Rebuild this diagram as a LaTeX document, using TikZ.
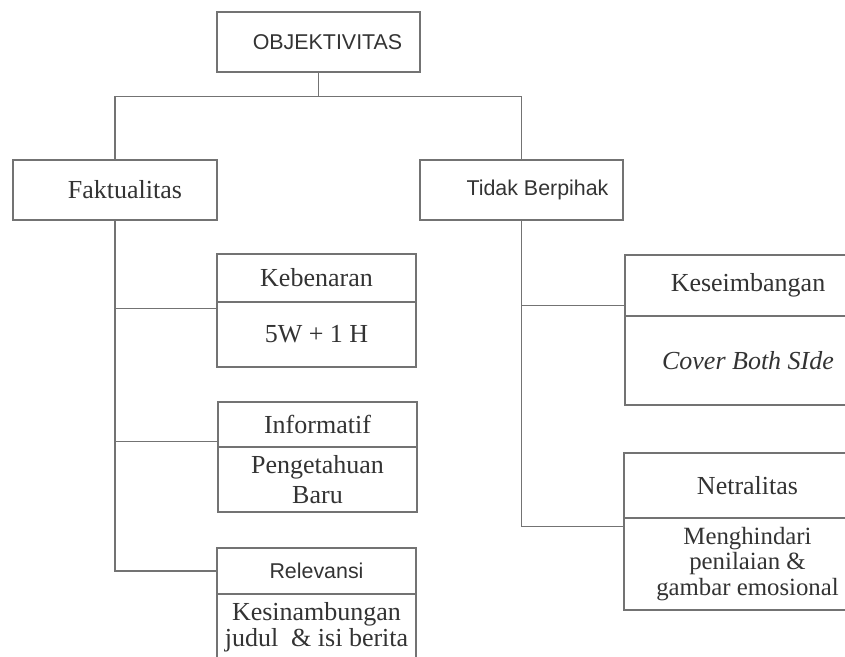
\documentclass[tikz,border=0pt]{standalone}
\usepackage{fontspec}
\usetikzlibrary{calc}
\setmainfont{Liberation Serif}
\newfontfamily\sansf{Liberation Sans}
\begin{document}
\begin{tikzpicture}[x=0.5pt,y=-0.5pt,
  box/.style={draw=black!55, line width=0.7pt, rectangle, inner sep=0pt, text=black!80, align=center},
  serifbox/.style={box, font=\fontsize{13}{15}\selectfont},
  sansbox/.style={box, font=\sansf\fontsize{10.7}{12}\selectfont},
  link/.style={draw=black!55, line width=0.7pt}]
\useasboundingbox (0,0) rectangle (845,657);
% top
\node[sansbox, minimum width=101.5pt, minimum height=30pt] (obj) at (318.5,42) {\hspace*{9pt}OBJEKTIVITAS};
\node[serifbox, minimum width=102pt, minimum height=30pt] (fakt) at (115,190) {\hspace*{10pt}Faktualitas};
\node[sansbox, minimum width=101.5pt, minimum height=30pt] (tidak) at (521.5,190) {\hspace*{16pt}Tidak Berpihak};
% left children
\node[serifbox, minimum width=99.5pt, minimum height=24pt] (kebh) at (316.5,278) {Kebenaran};
\node[serifbox, minimum width=99.5pt, minimum height=32.5pt] (kebb) at (316.5,334.5) {5W + 1 H};
\node[serifbox, minimum width=99.5pt, minimum height=22.5pt] (infh) at (317.5,424.5) {Informatif};
\node[serifbox, minimum width=99.5pt, minimum height=32.5pt, font=\fontsize{13}{15}\selectfont] (infb) at (317.5,479.5) {Pengetahuan\\Baru};
\node[sansbox, minimum width=99.5pt, minimum height=23pt] (relh) at (316.5,571) {Relevansi};
\node[serifbox, minimum width=99.5pt, minimum height=33pt, font=\fontsize{13}{11.5}\selectfont] (relb) at (316.5,627) {Kesinambungan\\judul~ \& isi berita};
% right children
\node[serifbox, minimum width=123pt, minimum height=30.5pt] (kesh) at (748,285.5) {Keseimbangan};
\node[serifbox, minimum width=123pt, minimum height=44.5pt] (kesb) at (748,360.5) {\itshape Cover Both SIde};
\node[serifbox, minimum width=123.5pt, minimum height=32.5pt] (neth) at (747.5,485.5) {Netralitas};
\node[serifbox, minimum width=123.5pt, minimum height=46pt, font=\fontsize{12.4}{12.6}\selectfont] (netb) at (747.5,564) {\raisebox{-2pt}{\parbox{120pt}{\centering Menghindari\\penilaian \&\\gambar emosional}}};
% connectors
\coordinate (j) at ($(obj.south)+(0,-12pt)$);
\path[link] (obj.south) -- (j);
\path[link] (fakt.north) |- (j) -| (tidak.north);
\path[link] (fakt.south) |- (relh.west);
\path[link] ([yshift=-3.5pt]fakt.south |- kebb.north west) -- ([yshift=-3.5pt]kebb.north west);
\path[link] ([yshift=3pt]fakt.south |- infh.south west) -- ([yshift=3pt]infh.south west);
\path[link] (tidak.south) |- ([yshift=-4.5pt]netb.north west);
\path[link] ([yshift=5.5pt]tidak.south |- kesh.south west) -- ([yshift=5.5pt]kesh.south west);
\end{tikzpicture}
\end{document}
